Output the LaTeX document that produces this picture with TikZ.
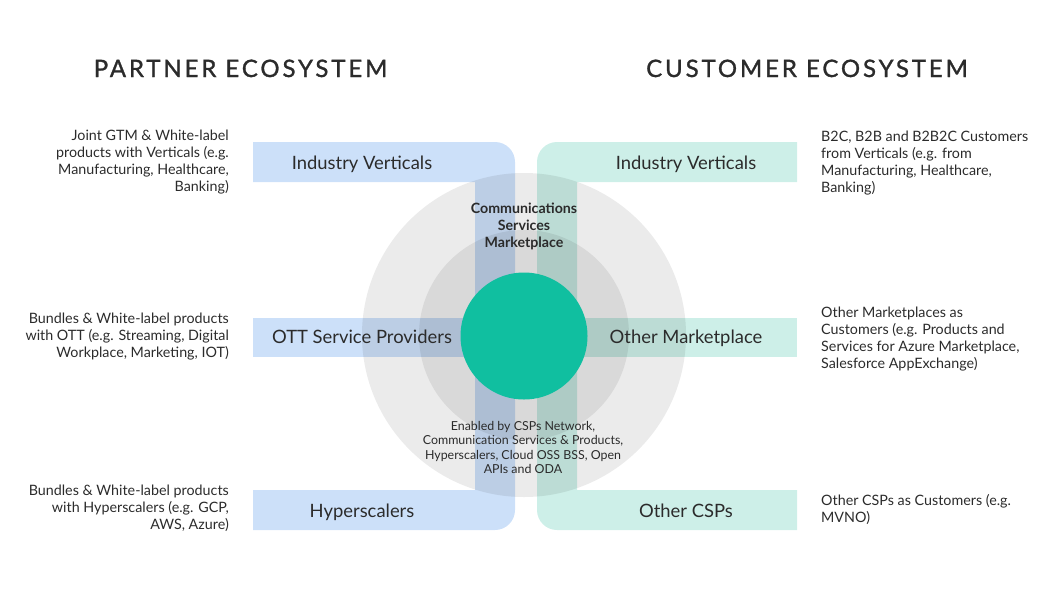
\documentclass[tikz,border=0pt]{standalone}
\usepackage{fontspec}
\setmainfont{Lato}
\definecolor{txt}{HTML}{2B2B2B}
\definecolor{bandblue}{HTML}{CCE0F9}
\definecolor{bandteal}{HTML}{CDEFE8}
\definecolor{outergray}{HTML}{EBEBEB}
\definecolor{innergray}{HTML}{D9D9D9}
\definecolor{hubgreen}{HTML}{10BFA0}
\tikzset{
  title/.style={inner sep=0, anchor=base, text=txt, font=\fontsize{24}{28}\selectfont\addfontfeatures{LetterSpace=12,FakeBold=1.2}},
  bandlabel/.style={inner sep=0, anchor=base, text=txt, font=\fontsize{18.4}{20}\selectfont},
  sidel/.style={inner sep=0, anchor=north east, align=right, text=txt, font=\fontsize{14.3}{17}\selectfont},
  sider/.style={inner sep=0, anchor=north west, align=left, text=txt, font=\fontsize{14.3}{17}\selectfont},
  centerbold/.style={inner sep=0, anchor=north, align=center, text=txt, font=\fontsize{14.2}{17}\selectfont\bfseries},
  centersmall/.style={inner sep=0, anchor=north, align=center, text=txt, font=\fontsize{12.4}{14.4}\selectfont},
}
\begin{document}
\begin{tikzpicture}[x=1pt,y=-1pt]
\useasboundingbox (0,0) rectangle (1059,600);
% circles
\fill[outergray] (524,335) circle[radius=162];
\fill[innergray] (524,335) circle[radius=105];
% bands
\begin{scope}[blend mode=multiply]
\fill[bandblue] (253,142) [rounded corners=20] -- (515,142) -- (515,530) [sharp corners] -- (253,530) -- (253,490) -- (475,490) -- (475,182) -- (253,182) -- cycle;
\fill[bandteal] (797,142) [rounded corners=20] -- (537,142) -- (537,530) [sharp corners] -- (797,530) -- (797,490) -- (577,490) -- (577,182) -- (797,182) -- cycle;
\fill[bandblue] (253,318) rectangle (472,357);
\fill[bandteal] (576,318) rectangle (797,357);
\end{scope}
\node[circle, fill=hubgreen, minimum size=127, inner sep=0] (hub) at (524,336) {};
% titles
\node[title] (tp) at (240.5,77) {PARTNER ECOSYSTEM};
\node[title] (tc) at (807,77) {CUSTOMER ECOSYSTEM};
% band labels
\node[bandlabel] (l1) at (362,169) {Industry Verticals};
\node[bandlabel] (l2) at (362,343) {OTT Service Providers};
\node[bandlabel] (l3) at (362,517) {Hyperscalers};
\node[bandlabel] (r1) at (686,169) {Industry Verticals};
\node[bandlabel] (r2) at (686,343) {Other Marketplace};
\node[bandlabel] (r3) at (686,517) {Other CSPs};
% center texts
\node[centerbold] (csm) at (524,203) {Communications\\Services\\Marketplace};
\node[centersmall] (en) at (523,421) {Enabled by CSPs Network,\\Communication Services \& Products,\\Hyperscalers, Cloud OSS BSS, Open\\APIs and ODA};
% side texts left
\node[sidel] (sl1) at (229,130) {Joint GTM \& White-label\\products with Verticals (e.g.\\Manufacturing, Healthcare,\\Banking)};
\node[sidel] (sl2) at (229,313) {Bundles \& White-label products\\with OTT (e.g. Streaming, Digital\\Workplace, Marketing, IOT)};
\node[sidel] (sl3) at (229,485) {Bundles \& White-label products\\with Hyperscalers (e.g. GCP,\\AWS, Azure)};
% side texts right
\node[sider] (sr1) at (821,131) {B2C, B2B and B2B2C Customers\\from Verticals (e.g. from\\Manufacturing, Healthcare,\\Banking)};
\node[sider] (sr2) at (821,307) {Other Marketplaces as\\Customers (e.g. Products and\\Services for Azure Marketplace,\\Salesforce AppExchange)};
\node[sider] (sr3) at (821,494) {Other CSPs as Customers (e.g.\\MVNO)};
\end{tikzpicture}
\end{document}
